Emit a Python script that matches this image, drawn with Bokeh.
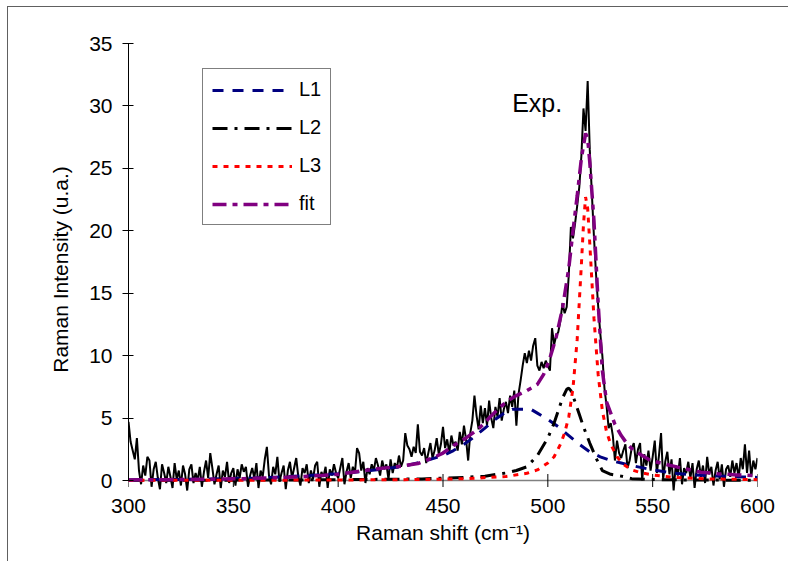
import math
from bokeh.plotting import figure
from bokeh.models import Range1d, LinearAxis, Legend, LegendItem, FixedTicker, Label, Span
from bokeh.embed import file_html
from bokeh.resources import INLINE

# ---------------- data ----------------
exp_x = list(range(300, 601))
exp_y = [
    4.7, 3.1, 2.4, 1.7, 3.4, 0.8, -0.3, 1.2, 0.4, 1.9,
    1.6, -0.5, 0.9, 1.5, 0.2, -0.7, 1.3, 0.6, -0.2, 1.1,
    0.3, -0.6, 1.4, 0.1, 0.8, -0.4, 1.2, 0.5, -0.8, 0.9,
    1.3, -0.2, 0.6, 0.0, 1.1, -0.5, 0.7, 1.6, 0.2, 2.2,
    1.0, -0.3, 0.5, 1.2, -0.6, 0.8, 0.3, 1.5, -0.2, 0.6,
    1.0, -0.4, 0.9, 0.2, 1.3, 0.7, 1.1, -0.5, 0.4, 1.0,
    0.2, 1.4, -0.6, 0.8, 0.3, 1.7, 2.7, 0.4, -0.3, 1.1,
    0.5, 1.9, -0.1, 0.6, 1.2, -0.7, 0.8, 1.5, 0.2, 1.0,
    1.8, 0.3, -0.4, 1.0, 0.6, 1.3, -0.2, 0.8, 0.1, 1.2,
    1.5, -0.5, 0.7, 0.3, 1.1, -0.6, 0.9, 0.4, 1.3, 0.6,
    0.2, 1.0, 1.8, -0.3, 0.7, 1.4, 0.2, 1.1, 0.6, 2.6,
    2.2, 0.8, 1.5, -0.2, 1.0, 0.5, 1.3, 0.8, 1.8, 1.2,
    0.4, 1.6, 0.9, 1.3, 0.1, 1.7, 0.6, 1.4, 1.0, 2.0,
    1.1, 1.6, 3.8, 2.8, 2.5, 1.9, 2.7, 2.2, 4.5, 2.3,
    2.0, 2.6, 1.4, 2.2, 3.0, 1.8, 2.4, 3.4, 2.1, 2.9,
    4.3, 2.6, 3.3, 2.2, 3.6, 2.8, 3.1, 2.4, 3.9, 2.9,
    4.4, 3.3, 1.6, 3.8, 4.8, 6.8, 5.2, 4.1, 6.0, 4.6,
    5.8, 4.4, 6.4, 5.0, 4.2, 5.9, 5.1, 6.6, 4.8, 5.7,
    6.3, 5.4, 6.8, 5.9, 7.2, 4.4, 6.9, 8.0, 9.2, 10.2,
    9.4, 10.4, 9.6, 10.8, 11.4, 9.2, 8.8, 9.5, 9.0, 9.6,
    9.2, 8.8, 12.2, 10.9, 11.6, 11.9, 12.8, 14.2, 13.4, 13.9,
    16.5, 20.3, 19.4, 20.6, 22.0, 23.5, 26.0, 29.8, 28.0, 32.0,
    26.5, 23.0, 19.5, 16.5, 14.0, 11.8, 10.0, 7.4, 6.0, 4.2,
    4.6, 3.6, 1.6, 3.2, 2.2, 1.8, 2.4, 2.9, 1.0, 1.6,
    2.6, 3.0, 1.4, 2.5, 3.0, 0.0, 2.1, 1.2, 2.4, 0.8,
    1.9, 3.2, 0.6, 2.0, 3.8, 0.1, 1.5, 2.3, 0.5, 1.7,
    -0.8, 1.2, 0.4, 1.8, -0.3, 1.0, 0.6, 1.5, 0.2, 1.4,
    -0.6, 0.9, 1.6, 0.3, 1.2, -0.2, 1.9, 0.5, 1.1, -0.4,
    0.8, 1.5, 0.1, 1.3, -0.5, 0.9, 1.2, 0.3, 1.6, 0.6,
    1.4, 0.2, 1.8, 0.9, 2.9, 0.6, 2.4, 0.3, 1.6, 0.9,
    1.8,
]

l1_x = [300, 320, 340, 360, 375, 390, 400, 410, 420, 430, 440, 450, 455, 460, 465,
        470, 475, 480, 483, 492, 495, 500, 505, 510, 515, 520, 525, 530, 535, 540,
        550, 560, 570, 580, 590, 600]
l1_y = [0.05, 0.08, 0.12, 0.2, 0.3, 0.45, 0.55, 0.7, 0.9, 1.1, 1.5, 2.0, 2.4, 2.9, 3.5,
        4.2, 4.9, 5.5, 5.7, 5.7, 5.4, 4.9, 4.3, 3.6, 2.9, 2.3, 1.9, 1.6, 1.4, 1.2,
        0.85, 0.6, 0.45, 0.37, 0.3, 0.25]

l2_x = [300, 350, 400, 440, 460, 470, 480, 485, 490, 495, 500, 503, 505, 507, 509,
        510, 511, 513, 515, 517, 520, 523, 526, 530, 535, 540, 550, 570, 600]
l2_y = [0.02, 0.03, 0.06, 0.13, 0.25, 0.35, 0.6, 0.8, 1.1, 2.0, 3.4, 4.6, 5.6, 6.6, 7.3,
        7.4, 7.2, 6.3, 5.3, 4.3, 3.0, 1.8, 0.8, 0.5, 0.35, 0.15, 0.08, 0.04, 0.02]

l3_x = [300, 350, 400, 440, 460, 480, 490, 495, 500, 503, 506, 508, 510, 512, 514,
        516, 517, 518, 519, 520, 521, 522, 524, 526, 528, 530, 533, 536, 540, 545,
        550, 560, 575, 600]
l3_y = [0.01, 0.02, 0.04, 0.08, 0.14, 0.32, 0.58, 0.85, 1.4, 1.9, 2.9, 3.8, 5.1, 7.4, 11.3,
        17.3, 20.5, 22.7, 21.8, 19.0, 16.0, 13.0, 8.5, 5.6, 3.9, 2.9, 1.9, 1.3, 0.85, 0.6,
        0.45, 0.25, 0.13, 0.07]

fit_x = [300, 320, 340, 355, 370, 380, 392, 400, 407, 419, 430, 438, 445, 450, 455,
         460, 465, 468, 472, 477, 481, 485, 490, 495, 498, 501, 504, 507, 510, 512,
         514, 516, 518, 519, 520, 522, 524, 526, 528, 530, 532, 535, 538, 541, 544,
         549, 555, 562, 573, 581, 590, 600]
fit_y = [0.05, 0.07, 0.1, 0.15, 0.22, 0.3, 0.4, 0.5, 0.67, 0.95, 1.15, 1.36, 1.8, 2.2, 2.8,
         3.3, 3.9, 4.3, 5.0, 5.85, 6.4, 6.8, 7.2, 7.7, 8.5, 9.8, 11.5, 13.8, 17.0, 20.0,
         22.8, 25.8, 27.8, 27.4, 25.5, 20.8, 14.2, 8.8, 6.3, 5.4, 4.5, 3.6, 2.9, 2.4, 2.1,
         1.6, 1.35, 1.07, 0.66, 0.55, 0.45, 0.38]

series_labels = ["L1", "L2", "L3", "fit"]
x_ticks = [300, 350, 400, 450, 500, 550, 600]
y_ticks = [0, 5, 10, 15, 20, 25, 30, 35]
x_title = "Raman shift (cm\u207b\u00b9)"
y_title = "Raman Intensity (u.a.)"
exp_text = "Exp."
exp_text_pos = (483, 30.2)

FONT = "Liberation Sans"

p = figure(width=781, height=555, output_backend="svg", toolbar_location=None,
           x_range=Range1d(300, 600), y_range=Range1d(-1.2, 35),
           x_axis_location=None, y_axis_location=None,
           min_border_left=120, min_border_right=32, min_border_top=36, min_border_bottom=67,
           background_fill_color="white", border_fill_color="white")
p.outline_line_color = None
p.grid.grid_line_color = None
p.styles = {"margin-left": "7px", "margin-top": "6px",
            "border-left": "1px solid #606060", "border-top": "1px solid #606060"}

yaxis = LinearAxis(ticker=FixedTicker(ticks=y_ticks), bounds=(0, 35), axis_label=y_title)
yaxis.axis_line_color = "black"
yaxis.major_tick_line_color = "black"
yaxis.major_tick_in = 5
yaxis.major_tick_out = 6
yaxis.minor_tick_line_color = None
yaxis.major_label_text_font = FONT
yaxis.major_label_text_font_size = "21px"
yaxis.major_label_text_color = "black"
yaxis.major_label_standoff = 10
yaxis.axis_label_text_font = FONT
yaxis.axis_label_text_font_size = "21px"
yaxis.axis_label_text_font_style = "normal"
yaxis.axis_label_text_color = "black"
yaxis.axis_label_standoff = 14
p.add_layout(yaxis, "left")

xaxis = LinearAxis(ticker=FixedTicker(ticks=x_ticks), axis_label=x_title)
xaxis.axis_line_color = None
xaxis.major_tick_line_color = None
xaxis.major_tick_in = 0
xaxis.major_tick_out = 0
xaxis.minor_tick_line_color = None
xaxis.major_label_text_font = FONT
xaxis.major_label_text_font_size = "21px"
xaxis.major_label_text_color = "black"
xaxis.major_label_standoff = 3
xaxis.axis_label_text_font = FONT
xaxis.axis_label_text_font_size = "21px"
xaxis.axis_label_text_font_style = "normal"
xaxis.axis_label_text_color = "black"
xaxis.axis_label_standoff = 5
p.add_layout(xaxis, "below")

# x axis line at y = 0 with crossing ticks
p.add_layout(Span(location=0, dimension="width", line_color="#808080", line_width=1.3,
                  level="underlay"))
p.scatter(x=x_ticks, y=[0] * len(x_ticks), marker="dash", size=13, angle=math.pi / 2,
          line_color="black", line_width=1)

p.line(exp_x, exp_y, line_color="black", line_width=2)
r1 = p.line(l1_x, l1_y, line_color="#000080", line_width=3, line_dash="11 9")
r2 = p.line(l2_x, l2_y, line_color="black", line_width=3, line_dash="15 7 3 7")
r3 = p.line(l3_x, l3_y, line_color="#ff0000", line_width=3, line_dash="5 6")
r4 = p.line(fit_x, fit_y, line_color="#800080", line_width=3.5, line_dash="14 6 5 6")

p.add_layout(Label(x=exp_text_pos[0], y=exp_text_pos[1], text=exp_text,
                   text_font=FONT, text_font_size="25px", text_color="black",
                   text_baseline="alphabetic"))

legend = Legend(items=[LegendItem(label=l, renderers=[r]) for l, r in
                       zip(series_labels, [r1, r2, r3, r4])],
                location=(74, 270), glyph_width=80, glyph_height=20, label_height=20,
                spacing=15, padding=9, label_standoff=7, margin=0,
                label_text_font=FONT, label_text_font_size="20px", label_text_color="black",
                border_line_color="black", border_line_width=1,
                background_fill_color="white", background_fill_alpha=1)
p.add_layout(legend)

open("out.html", "w").write(file_html(p, INLINE))
